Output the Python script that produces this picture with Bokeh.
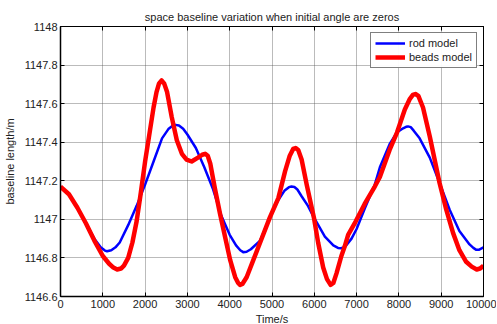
from bokeh.plotting import figure
from bokeh.models import Range1d, FixedTicker, LinearAxis, CustomJSTickFormatter, Legend, LegendItem
from bokeh.embed import file_html
from bokeh.resources import INLINE

title_text = "space baseline variation when initial angle are zeros"
x_label = "Time/s"
y_label = "baseline length/m"

x_ticks = [0, 1000, 2000, 3000, 4000, 5000, 6000, 7000, 8000, 9000, 10000]
y_ticks = [1146.6, 1146.8, 1147.0, 1147.2, 1147.4, 1147.6, 1147.8, 1148.0]

rod_t = [0, 200, 400, 600, 800, 950, 1050, 1100, 1200, 1300, 1400, 1600, 1800, 2000, 2200, 2400, 2550,
         2650, 2720, 2800, 2900, 3000, 3200, 3400, 3600, 3800, 4000, 4150, 4250, 4320, 4400, 4500, 4720, 4950, 5150,
         5300, 5400, 5460, 5530, 5600, 5700, 5850, 5990, 6250, 6450, 6560, 6630, 6720, 6880, 7000, 7200, 7430, 7550,
         7780, 7950, 8100, 8170, 8215, 8280, 8350, 8490, 8730, 8960, 9200, 9430, 9670, 9760, 9830, 9900, 10000]
rod_v = [1147.17, 1147.13, 1147.06, 1146.98, 1146.90, 1146.855, 1146.838, 1146.835, 1146.84, 1146.855, 1146.88,
         1146.97, 1147.07, 1147.18, 1147.30, 1147.42, 1147.468,
         1147.485, 1147.49, 1147.487, 1147.47, 1147.44, 1147.37, 1147.27, 1147.16, 1147.02, 1146.92, 1146.865, 1146.84, 1146.83,
         1146.832, 1146.845, 1146.89, 1147.01, 1147.10,
         1147.15, 1147.167, 1147.17, 1147.168, 1147.155, 1147.12, 1147.07, 1147.01, 1146.91, 1146.865, 1146.852, 1146.85, 1146.855, 1146.90,
         1146.95, 1147.06, 1147.18, 1147.27,
         1147.39, 1147.45, 1147.472, 1147.48, 1147.482, 1147.478, 1147.46, 1147.42, 1147.32, 1147.19, 1147.05, 1146.94,
         1146.87, 1146.852, 1146.842, 1146.843, 1146.855]

beads_t = [0, 200, 400, 600, 800, 1000, 1150, 1250, 1340, 1430, 1500, 1600, 1700, 1800, 1900, 2000, 2100,
           2200, 2270, 2330, 2390, 2450, 2520, 2630, 2750, 2870, 2980, 3100, 3250, 3350, 3420, 3480, 3540, 3650, 3770,
           3890, 4010, 4130, 4200, 4245, 4300, 4400, 4560, 4720, 4950, 5150, 5310, 5420, 5500, 5560, 5620, 5700, 5820,
           5990, 6090, 6210, 6300, 6385, 6450, 6525, 6640, 6720, 6800, 6980, 7190, 7430, 7550, 7780, 7955,
           8140, 8260, 8330, 8390, 8460, 8570, 8730, 8960, 9120, 9280, 9430, 9590, 9720, 9840, 9920, 10000]
beads_v = [1147.17, 1147.13, 1147.06, 1146.98, 1146.89, 1146.81, 1146.77, 1146.75, 1146.74, 1146.745, 1146.76,
           1146.80, 1146.88, 1146.99, 1147.14, 1147.30, 1147.44,
           1147.58, 1147.66, 1147.705, 1147.72, 1147.705, 1147.66, 1147.53, 1147.41, 1147.34, 1147.31, 1147.30, 1147.32,
           1147.335, 1147.34, 1147.33, 1147.29, 1147.16, 1147.03,
           1146.91, 1146.79, 1146.70, 1146.67, 1146.66, 1146.665, 1146.70, 1146.79, 1146.88, 1147.01, 1147.11, 1147.25,
           1147.33, 1147.365, 1147.37, 1147.36, 1147.31, 1147.18,
           1147.01, 1146.88, 1146.75, 1146.69, 1146.66, 1146.67, 1146.72, 1146.81, 1146.86, 1146.92, 1146.99, 1147.08,
           1147.17, 1147.22, 1147.36, 1147.45,
           1147.57, 1147.625, 1147.645, 1147.65, 1147.64, 1147.58, 1147.43, 1147.19, 1147.05, 1146.93, 1146.84, 1146.78,
           1146.755, 1146.74, 1146.745, 1146.76]

FONT = "Liberation Sans"

p = figure(width=496, height=327, output_backend="svg", toolbar_location=None,
           x_range=Range1d(0, 10000), y_range=Range1d(1146.6, 1148.0),
           min_border_left=52, min_border_right=13, min_border_top=26, min_border_bottom=20)

p.title.text = title_text
p.title.align = "center"
p.title.text_font = FONT
p.title.text_font_size = "11px"
p.title.text_font_style = "normal"
p.title.text_color = "#222222"
p.title.offset = 0
p.title.standoff = 7

p.outline_line_color = "black"
p.outline_line_width = 1
p.background_fill_color = "white"
p.border_fill_color = "white"

fmt = CustomJSTickFormatter(code="return (Math.round(tick*10)/10).toString();")
blank = CustomJSTickFormatter(code="return '';")

for ax in [p.xaxis[0], p.yaxis[0]]:
    ax.major_tick_in = 4
    ax.major_tick_out = 0
    ax.minor_tick_in = 0
    ax.minor_tick_out = 0
    ax.axis_line_color = "black"
    ax.axis_line_width = 1.5
    ax.major_tick_line_color = "black"
    ax.major_label_text_font = FONT
    ax.major_label_text_font_size = "11px"
    ax.major_label_text_color = "#222222"
    ax.axis_label_text_font = FONT
    ax.axis_label_text_font_size = "11px"
    ax.axis_label_text_font_style = "normal"
    ax.axis_label_text_color = "#222222"

p.xaxis[0].ticker = FixedTicker(ticks=x_ticks)
p.yaxis[0].ticker = FixedTicker(ticks=y_ticks)
p.yaxis[0].formatter = fmt
p.xaxis[0].axis_label = x_label
p.yaxis[0].axis_label = y_label
p.xaxis[0].major_label_standoff = 3
p.xaxis[0].axis_label_standoff = 2
p.yaxis[0].major_label_standoff = 3
p.yaxis[0].axis_label_standoff = 6

for loc, tk in [("right", y_ticks), ("above", x_ticks)]:
    a = LinearAxis(ticker=FixedTicker(ticks=tk), formatter=blank)
    a.major_tick_in = 4
    a.major_tick_out = 0
    a.minor_tick_in = 0
    a.minor_tick_out = 0
    a.axis_line_color = "black"
    a.major_tick_line_color = "black"
    a.major_label_standoff = 0
    p.add_layout(a, loc)

p.xgrid.ticker = FixedTicker(ticks=x_ticks)
p.ygrid.ticker = FixedTicker(ticks=y_ticks)
for g in [p.xgrid[0], p.ygrid[0]]:
    g.grid_line_color = "#555555"
    g.grid_line_dash = "1 1"
    g.grid_line_width = 1
    g.grid_line_alpha = 0.8

r_rod = p.line(rod_t, rod_v, line_color="#0000ff", line_width=2.5, line_join="round")
r_beads = p.line(beads_t, beads_v, line_color="#ff0000", line_width=4.5, line_join="round")

legend = Legend(items=[LegendItem(label="rod model", renderers=[r_rod]),
                       LegendItem(label="beads model", renderers=[r_beads])],
                location="top_right")
legend.label_text_font = FONT
legend.label_text_font_size = "11px"
legend.label_text_color = "#222222"
legend.border_line_color = "black"
legend.border_line_width = 1.5
legend.glyph_width = 30
legend.glyph_height = 12
legend.label_height = 12
legend.spacing = 2
legend.padding = 4
legend.margin = 6
legend.label_standoff = 4
p.add_layout(legend, "center")

open("out.html", "w").write(file_html(p, INLINE))
